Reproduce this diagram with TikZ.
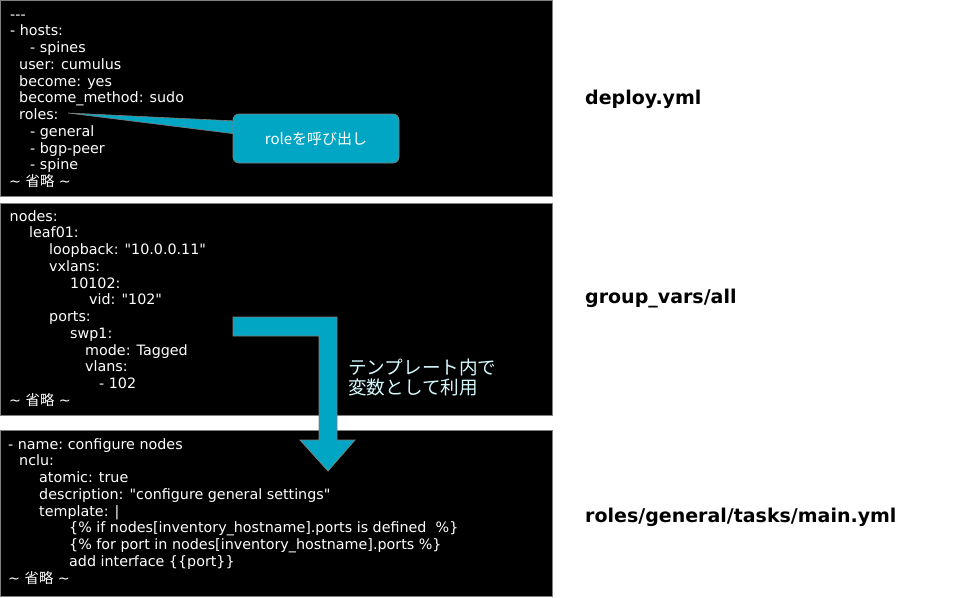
\documentclass[tikz,border=0pt]{standalone}
\usepackage{fontspec}
\setmainfont{DejaVu Sans}[Ligatures=TeXOff]
\newfontfamily\jpfont{Noto Sans CJK JP}

\definecolor{calloutblue}{HTML}{00A6C4}
\definecolor{boxgray}{HTML}{808080}
\definecolor{notecyan}{HTML}{D4FAFF}

\tikzset{
  codebox/.style={fill=black, draw=boxgray, line width=1pt},
  codeline/.style={anchor=base west, inner sep=0pt, text=white, font=\fontsize{14.3}{16}\selectfont},
  filelabel/.style={anchor=base west, inner sep=0pt, font=\fontsize{19}{22}\selectfont\bfseries},
  calloutbox/.style={fill=calloutblue, draw=boxgray, line width=0.75pt, rounded corners=6pt,
    minimum width=166pt, minimum height=49pt, inner sep=0pt, text=white,
    font=\fontsize{15}{17}\selectfont\jpfont},
}

\begin{document}
\begin{tikzpicture}[x=1pt, y=-1pt]
        \useasboundingbox (0,0) rectangle (979,597);

        % Code boxes
        \draw[codebox] (0.5,0.5) rectangle (552,196);
        \draw[codebox] (0.5,203.5) rectangle (552,415);
        \draw[codebox] (0.5,430) rectangle (552,596);

        % deploy.yml
        \foreach \ix/\txt [count=\i] in {10/{-{}-{}-}, 10/{- hosts:}, 30/{- spines}, 19/{user: cumulus},
            19/{become: yes}, 19/{become\_method: sudo}, 19/{roles:}, 30/{- general}, 30/{- bgp-peer},
            30/{- spine}, 9/{\textasciitilde\ {\jpfont 省略} \textasciitilde}}
          \node[codeline] (deploy\i) at (\ix, {19+(\i-1)*16.75}) {\txt};

        % group_vars/all
        \foreach \ix/\txt [count=\i] in {9.5/{nodes:}, 29/{leaf01:}, 49/{loopback: "10.0.0.11"}, 49/{vxlans:},
            70/{10102:}, 89/{vid: "102"}, 49/{ports:}, 70/{swp1:}, 85/{mode: Tagged}, 85/{vlans:},
            99/{- 102}, 9/{\textasciitilde\ {\jpfont 省略} \textasciitilde}}
          \node[codeline] (vars\i) at (\ix, {221+(\i-1)*16.75}) {\txt};

        % roles/general/tasks/main.yml
        \foreach \ix/\txt [count=\i] in {8/{- name:\ configure nodes}, 19/{nclu:}, 39/{atomic: true},
            39/{description: "configure general settings"}, 39/{template: |},
            69/{\{\% if nodes[inventory\_hostname].ports is defined \ \%\}},
            69/{\{\% for port in nodes[inventory\_hostname].ports \%\}},
            69/{add interface \{\{port\}\}}, 8/{\textasciitilde\ {\jpfont 省略} \textasciitilde}}
          \node[codeline] (tasks\i) at (\ix, {449+(\i-1)*16.75}) {\txt};

        % File names
        \node[filelabel] (deployname) at (585,104) {deploy.yml};
        \node[filelabel] (varsname) at (585,303) {group\_vars/all};
        \node[filelabel] (tasksname) at (585,522) {roles/general/tasks/main.yml};

        % Callout on roles
        \filldraw[fill=calloutblue, draw=boxgray, line width=0.6pt] (68,113) -- (236,121) -- (236,134) -- cycle;
        \node[calloutbox] (rolecall) at (316,138.5) {roleを呼び出し};

        % Bent arrow from group_vars into the template
        \filldraw[fill=calloutblue, draw=boxgray, line width=0.75pt]
          (233,317) -- (337,317) -- (337,440) -- (355,440) -- (328,471) -- (300,440)
          -- (319,440) -- (319,336) -- (233,336) -- cycle;
        \node[anchor=north west, inner sep=0pt, align=left, text=notecyan,
          font=\fontsize{18.6}{20}\selectfont\jpfont] (usenote) at (348,359)
          {テンプレート内で\\変数として利用};
    \end{tikzpicture}
\end{document}
